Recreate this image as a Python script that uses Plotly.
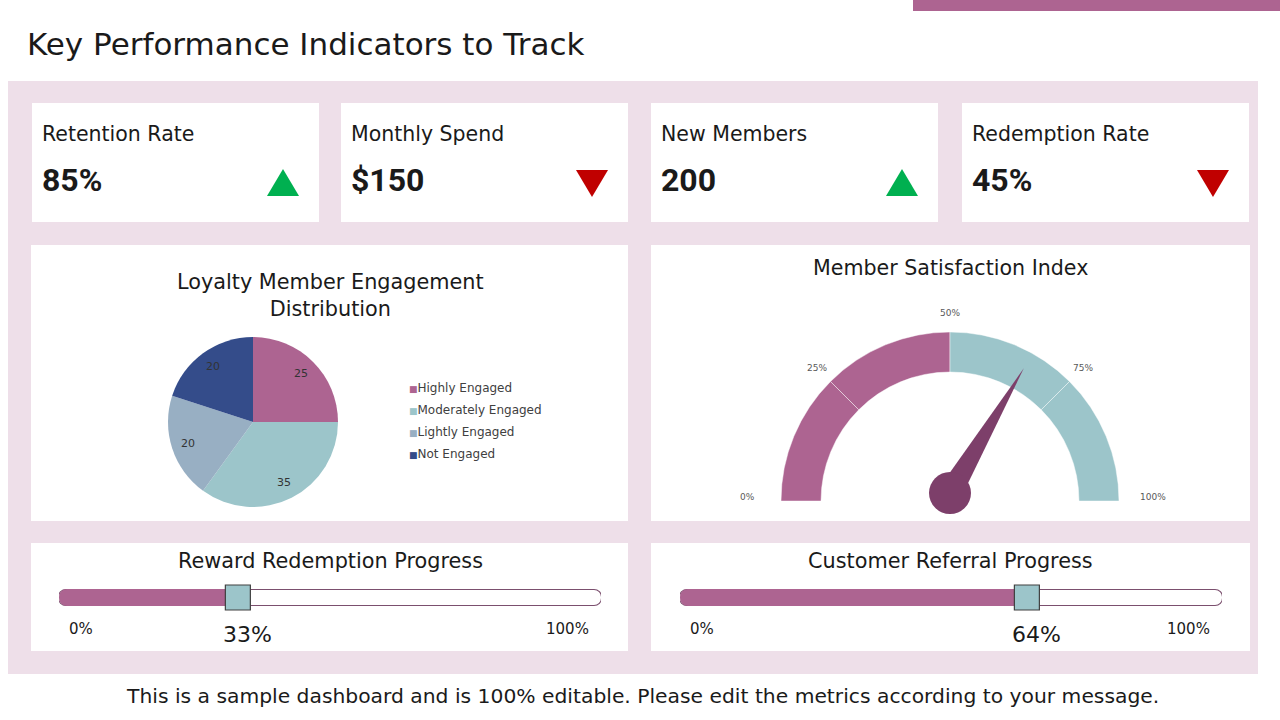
import math
import plotly.graph_objects as go

W, H = 1280, 720
def fx(x): return x / W
def fy(y): return 1 - y / H

FONT = "DejaVu Sans"
BOLD_FONT = "Roboto"

# ---------------- data ----------------
title_text = "Key Performance Indicators to Track"
footer_text = "This is a sample dashboard and is 100% editable. Please edit the metrics according to your message."

kpi_labels = ["Retention Rate", "Monthly Spend", "New Members", "Redemption Rate"]
kpi_values = ["85%", "$150", "200", "45%"]
kpi_trends = ["up", "down", "up", "down"]

pie_title = "Loyalty Member Engagement<br>Distribution"
pie_labels = ["Highly Engaged", "Moderately Engaged", "Lightly Engaged", "Not Engaged"]
pie_values = [25, 35, 20, 20]
pie_colors = ["#AD6491", "#9CC5CA", "#98AFC3", "#344C8A"]

gauge_title = "Member Satisfaction Index"
gauge_ticks = [0, 25, 50, 75, 100]
gauge_tick_labels = ["0%", "25%", "50%", "75%", "100%"]
gauge_value = 67

progress_titles = ["Reward Redemption Progress", "Customer Referral Progress"]
progress_values = [33, 64]

# ---------------- styles ----------------
PINK = "#AD6491"
TEAL = "#9CC5CA"
BG_PINK = "#EEDFE9"
DARK = "#7D3F6A"
OUTLINE = "#7B4F6E"
TXT = "#1a1a1a"

fig = go.Figure()
shapes = []
annotations = []

def rect(x0, y0, x1, y1, color, layer="below"):
    shapes.append(dict(type="rect", xref="paper", yref="paper",
                       x0=fx(x0), x1=fx(x1), y0=fy(y1), y1=fy(y0),
                       fillcolor=color, line=dict(width=0), layer=layer))

def text(x, y, s, size, color=TXT, xanchor="center", family=FONT):
    annotations.append(dict(xref="paper", yref="paper", x=fx(x), y=fy(y), text=s,
                            showarrow=False, xanchor=xanchor, yanchor="middle",
                            font=dict(family=family, size=size, color=color)))

# header bar and background panel
rect(913, 0, 1280, 11, PINK)
rect(8, 81, 1258, 674, BG_PINK)
text(25, 44, title_text, 31, xanchor="left")
text(642, 696, footer_text, 20.3)

# KPI cards
card_x = [32, 341, 651, 962]
card_w = 287
for i, (lab, val, tr) in enumerate(zip(kpi_labels, kpi_values, kpi_trends)):
    x0 = card_x[i]
    rect(x0, 103, x0 + card_w, 222, "white")
    text(x0 + 8, 134, lab, 20.5, xanchor="left")
    text(x0 + 8, 180, "<b>%s</b>" % val, 32, xanchor="left", family=BOLD_FONT)
    cx, cy = x0 + 251, 183
    if tr == "up":
        pts = [(cx - 16, cy + 13), (cx + 16, cy + 13), (cx, cy - 14)]
        col = "#00B050"
    else:
        pts = [(cx - 16, cy - 13), (cx + 16, cy - 13), (cx, cy + 14)]
        col = "#C00000"
    path = "M " + " L ".join("%f,%f" % (fx(a), fy(b)) for a, b in pts) + " Z"
    shapes.append(dict(type="path", xref="paper", yref="paper", path=path,
                       fillcolor=col, line=dict(width=0), layer="above"))

# Panels
rect(31, 245, 628, 521, "white")
rect(651, 245, 1250, 521, "white")
rect(31, 543, 628, 651, "white")
rect(651, 543, 1250, 651, "white")

# ---------------- pie ----------------
text(330, 295, pie_title, 20.8)
pcx, pcy, pr = 253, 422, 85
fig.add_trace(go.Pie(
    labels=pie_labels, values=pie_values, sort=False, direction="clockwise",
    marker=dict(colors=pie_colors, line=dict(width=0)),
    textinfo="none",
    domain=dict(x=[fx(pcx - pr), fx(pcx + pr)], y=[fy(pcy + pr), fy(pcy - pr)]),
    showlegend=False, hoverinfo="label+value",
))
# value labels at slice mid-angles
tot = sum(pie_values)
cum = 0
for v in pie_values:
    mid = (cum + v / 2) / tot * 2 * math.pi
    cum += v
    lx = pcx + 0.80 * pr * math.sin(mid)
    ly = pcy - 0.80 * pr * math.cos(mid)
    text(lx, ly, str(v), 11, color="#333333")
# legend
for k, (lab, col) in enumerate(zip(pie_labels, pie_colors)):
    annotations.append(dict(xref="paper", yref="paper", x=fx(407), y=fy(388 + 22 * k),
                            xanchor="left", yanchor="middle", showarrow=False,
                            text='<span style="color:%s;font-size:9px">■</span>%s' % (col, lab),
                            font=dict(family=FONT, size=12, color="#404040")))

# ---------------- gauge ----------------
text(950, 268, gauge_title, 20.6)
gcx, gcy, gro, gri = 950, 501, 169, 129
seg_vals = [gauge_ticks[i + 1] - gauge_ticks[i] for i in range(len(gauge_ticks) - 1)]
seg_cols = [PINK, PINK, TEAL, TEAL]
fig.add_trace(go.Pie(
    values=seg_vals + [sum(seg_vals)], labels=["a", "b", "c", "d", "e"],
    sort=False, direction="clockwise", rotation=270, hole=gri / gro,
    marker=dict(colors=seg_cols + ["rgba(0,0,0,0)"],
                line=dict(color=["rgba(255,255,255,0.45)"] * 4 + ["rgba(0,0,0,0)"], width=1)),
    textinfo="none", hoverinfo="skip", showlegend=False,
    domain=dict(x=[fx(gcx - gro), fx(gcx + gro)], y=[fy(gcy + gro), fy(gcy - gro)]),
))
for t, lab in zip(gauge_ticks, gauge_tick_labels):
    ang = math.radians(180 - t / 100 * 180)
    end = t in (gauge_ticks[0], gauge_ticks[-1])
    rr = 203 if end else 188
    lx = gcx + rr * math.cos(ang)
    ly = gcy - rr * math.sin(ang) - (4 if end else 0)
    text(lx, ly, lab, 9, color="#595959")

# needle
hx, hy = 950, 493
ang = math.radians(180 - gauge_value / 100 * 180)
L, bw = 145, 12
tip = (hx + L * math.cos(ang), hy - L * math.sin(ang))
p1 = (hx + bw * math.cos(ang + math.pi / 2), hy - bw * math.sin(ang + math.pi / 2))
p2 = (hx + bw * math.cos(ang - math.pi / 2), hy - bw * math.sin(ang - math.pi / 2))
path = "M %f,%f L %f,%f L %f,%f Z" % (fx(p1[0]), fy(p1[1]), fx(tip[0]), fy(tip[1]), fx(p2[0]), fy(p2[1]))
shapes.append(dict(type="path", xref="paper", yref="paper", path=path,
                   fillcolor=DARK, line=dict(width=0), layer="above"))
hr = 21
shapes.append(dict(type="circle", xref="paper", yref="paper",
                   x0=fx(hx - hr), x1=fx(hx + hr), y0=fy(hy + hr), y1=fy(hy - hr),
                   fillcolor=DARK, line=dict(width=0), layer="above"))

# ---------------- progress bars ----------------
track_x = [(59, 601), (680, 1222)]
title_cx = [330, 950]
W_OUT, W_IN = 17 / 29, 15 / 29
for i, (ttl, val) in enumerate(zip(progress_titles, progress_values)):
    n = i + 2
    xa, ya = "x%d" % n, "y%d" % n
    x0, x1 = track_x[i]
    fig.layout["xaxis%d" % n] = dict(domain=[fx(x0), fx(x1)], range=[0, 100], visible=False,
                                     anchor=ya, fixedrange=True)
    fig.layout["yaxis%d" % n] = dict(domain=[fy(612), fy(583)], range=[-0.5, 0.5], visible=False,
                                     anchor=xa, fixedrange=True)
    ext = 0.2
    # outline and white track: two overlapping halves, each rounded at its far end
    for color, width, e in ((OUTLINE, W_OUT, ext), ("white", W_IN, 0)):
        fig.add_trace(go.Bar(x=[-(52 + e)], base=[52], y=[0], orientation="h",
                             xaxis=xa, yaxis=ya, width=width,
                             marker=dict(color=color, line=dict(width=0), cornerradius="50%"),
                             showlegend=False, hoverinfo="skip"))
        fig.add_trace(go.Bar(x=[52 + e], base=[48], y=[0], orientation="h",
                             xaxis=xa, yaxis=ya, width=width,
                             marker=dict(color=color, line=dict(width=0), cornerradius="50%"),
                             showlegend=False, hoverinfo="skip"))
    # filled part: drawn from the value back to 0 so the left end is rounded
    fig.add_trace(go.Bar(x=[-val], base=[val], y=[0], orientation="h", xaxis=xa, yaxis=ya,
                         width=W_OUT,
                         marker=dict(color=PINK, line=dict(width=0), cornerradius="50%"),
                         showlegend=False, hoverinfo="skip"))
    fig.add_trace(go.Scatter(x=[val], y=[0], mode="markers", xaxis=xa, yaxis=ya,
                             marker=dict(symbol="square", size=25, color=TEAL,
                                         line=dict(color="#404040", width=1.2)),
                             showlegend=False, hoverinfo="skip", cliponaxis=False))
    text(title_cx[i], 561, ttl, 20.8)
    annotations.append(dict(xref=xa, yref="paper", x=0, y=fy(629), text="0%", showarrow=False,
                            xshift=22, yanchor="middle",
                            font=dict(family=FONT, size=15, color=TXT)))
    annotations.append(dict(xref=xa, yref="paper", x=100, y=fy(629), text="100%", showarrow=False,
                            xshift=-34, yanchor="middle",
                            font=dict(family=FONT, size=15, color=TXT)))
    annotations.append(dict(xref=xa, yref="paper", x=val, y=fy(634), text="%d%%" % val,
                            showarrow=False, xshift=10, yanchor="middle",
                            font=dict(family=FONT, size=22, color=TXT)))

fig.update_layout(
    width=W, height=H, margin=dict(l=0, r=0, t=0, b=0),
    paper_bgcolor="white", plot_bgcolor="rgba(0,0,0,0)",
    barmode="overlay", showlegend=False,
    shapes=shapes, annotations=annotations,
    xaxis=dict(visible=False), yaxis=dict(visible=False),
    font=dict(family=FONT),
)

fig.write_html("out.html")
